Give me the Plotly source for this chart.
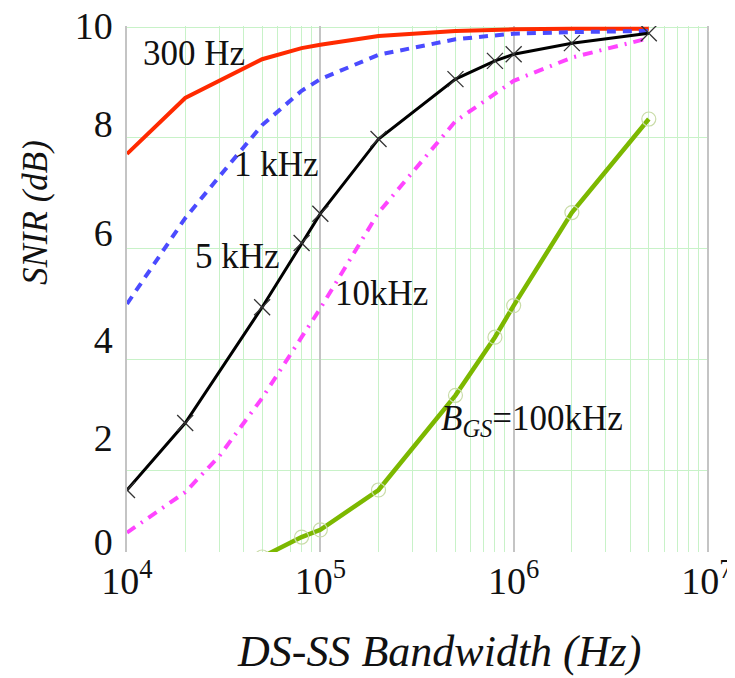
import plotly.graph_objects as go

# ---- data ----
x_300 = [1e4, 2e4, 5e4, 8e4, 1e5, 2e5, 5e5, 8e5, 1e6, 2e6, 5e6]
y_300 = [7.71, 8.72, 9.42, 9.62, 9.68, 9.84, 9.93, 9.95, 9.96, 9.97, 9.97]

x_1k = [1e4, 2e4, 3e4, 5e4, 8e4, 1e5, 2e5, 5e5, 8e5, 1e6, 2e6, 5e6]
y_1k = [5.0, 6.55, 7.3, 8.23, 8.85, 9.06, 9.5, 9.78, 9.85, 9.88, 9.91, 9.93]

x_5k = [1e4, 2e4, 5e4, 8e4, 1e5, 2e5, 5e5, 8e5, 1e6, 2e6, 5e6]
y_5k = [1.64, 2.85, 4.94, 6.1, 6.63, 7.98, 9.06, 9.39, 9.51, 9.71, 9.89]

x_10k = [1e4, 2e4, 3e4, 5e4, 8e4, 1e5, 2e5, 5e5, 1e6, 2e6, 5e6]
y_10k = [0.87, 1.6, 2.25, 3.3, 4.4, 4.92, 6.65, 8.3, 9.03, 9.45, 9.8]

x_100k = [5e4, 8e4, 1e5, 2e5, 5e5, 8e5, 1e6, 2e6, 5e6]
y_100k = [0.43, 0.79, 0.92, 1.64, 3.35, 4.4, 4.97, 6.65, 8.34]

x_ticks = [1e4, 1e5, 1e6, 1e7]
x_ticktext = ["10<sup>4</sup>", "10<sup>5</sup>", "10<sup>6</sup>", "10<sup>7</sup>"]
x_minor = [m * d for d in (1e4, 1e5, 1e6) for m in range(2, 10)]
# in the reference the y tick labels sit slightly apart from their grid lines
y_grid = [2, 4, 6, 8, 10]
y_ticks = [0.70, 2.58, 4.36, 6.29, 8.25, 10.02]
y_ticktext = ["0", "2", "4", "6", "8", "10"]

labels = ["300 Hz", "1 kHz", "5 kHz", "10kHz", "<i>B<sub>GS</sub></i>=100kHz"]
label_x = [4.347, 4.771, 4.569, 5.314, 6.095]
label_y = [9.53, 7.51, 5.86, 5.19, 2.9]

FONT = "Liberation Serif, Times New Roman, serif"

fig = go.Figure()
fig.add_trace(go.Scatter(x=x_300, y=y_300, mode="lines",
                         line=dict(color="#ff2a00", width=4)))
fig.add_trace(go.Scatter(x=x_1k, y=y_1k, mode="lines",
                         line=dict(color="#4b4bff", width=4, dash="9px,7px")))
fig.add_trace(go.Scatter(x=x_10k, y=y_10k, mode="lines",
                         line=dict(color="#ff44ff", width=4, dash="10px,7px,2px,7px")))
fig.add_trace(go.Scatter(x=x_5k, y=y_5k, mode="lines+markers",
                         line=dict(color="#000000", width=3),
                         marker=dict(symbol="x-thin", size=16,
                                     line=dict(color="#333333", width=1.3))))
fig.add_trace(go.Scatter(x=x_100k, y=y_100k, mode="lines+markers",
                         line=dict(color="#7cb800", width=4.5),
                         marker=dict(symbol="circle-open", size=14, color="#c9dca8",
                                     line=dict(color="#c9dca8", width=1.2))))

for t, lx, ly in zip(labels, label_x, label_y):
    fig.add_annotation(x=lx, y=ly, xref="x", yref="y", text=t, showarrow=False,
                       font=dict(family=FONT, size=35, color="#111111"))

fig.add_annotation(x=-0.159, y=0.646, xref="paper", yref="paper",
                   xanchor="center", yanchor="middle",
                   text="<i>SNIR (dB)</i>", textangle=-90, showarrow=False,
                   font=dict(family=FONT, size=35, color="#111111"))
fig.add_annotation(x=0.538, y=-0.19, xref="paper", yref="paper",
                   xanchor="center", yanchor="middle",
                   text="<i>DS-SS Bandwidth (Hz)</i>", showarrow=False,
                   font=dict(family=FONT, size=44, color="#111111"))

# page body adds an 8px offset; figure is sized so the plot area lands where the reference has it
fig.update_layout(
    width=727, height=670,
    margin=dict(l=119, r=28, t=18, b=126, autoexpand=False),
    paper_bgcolor="white", plot_bgcolor="white",
    showlegend=False,
    font=dict(family=FONT, size=38, color="#111111"),
)
fig.update_xaxes(type="log", range=[4, 7], tickmode="array", tickvals=x_ticks,
                 ticktext=x_ticktext, showgrid=True, gridcolor="#c4c4c4", gridwidth=1.5,
                 zeroline=False, showline=False, ticks="", ticklabelstandoff=3,
                 automargin=False, ticklabeloverflow="allow",
                 minor=dict(tickmode="array", tickvals=x_minor, showgrid=True,
                            gridcolor="#c8f2c8", gridwidth=1, ticks=""))
fig.update_yaxes(range=[0.52, 10.02], tickmode="array", tickvals=y_ticks,
                 ticktext=y_ticktext, showgrid=False,
                 zeroline=False, showline=True, mirror=True, linecolor="#c4c4c4",
                 linewidth=1.5, ticks="", ticklabelstandoff=5,
                 automargin=False, ticklabeloverflow="allow",
                 minor=dict(tickmode="array", tickvals=y_grid, showgrid=True,
                            gridcolor="#c8f2c8", gridwidth=1.2, ticks=""))

fig.write_html("out.html")
